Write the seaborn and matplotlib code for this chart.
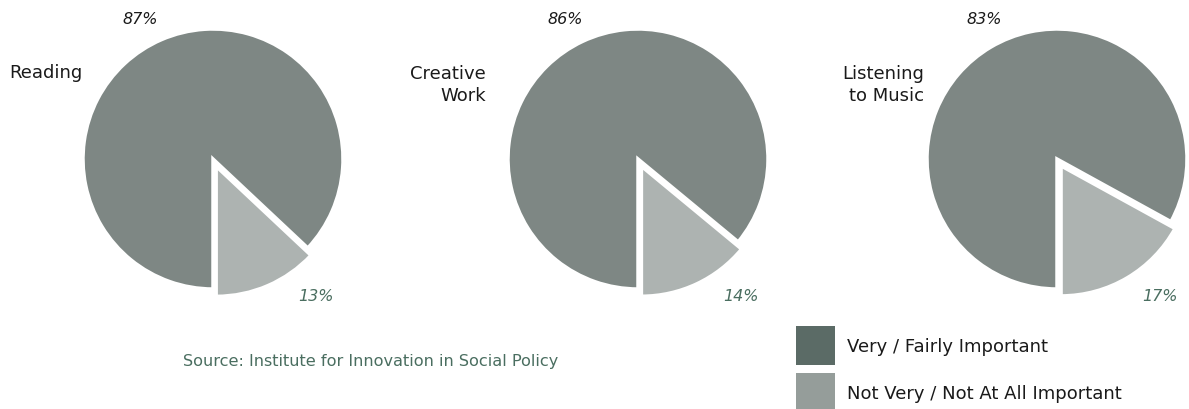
import numpy as np
import matplotlib
matplotlib.use('Agg')
import matplotlib.pyplot as plt
import seaborn as sns
from matplotlib.patches import Rectangle

# データ
activities = ['Reading', 'Creative\nWork', 'Listening\nto Music']
important = [87, 86, 83]
not_important = [13, 14, 17]
legend_labels = ['Very / Fairly Important', 'Not Very / Not At All Important']
source_text = 'Source: Institute for Innovation in Social Policy'

# スタイル
sns.set_theme(style='white')
plt.rcParams['font.family'] = ['DejaVu Sans']

pie_colors = ['#adb3b1', '#7e8784']      # small slice, big slice
legend_colors = ['#5b6b66', '#959d9a']
text_dark = '#1a1a1a'
text_green = '#4a6e60'

W, H = 1189, 410
fig = plt.figure(figsize=(W / 100, H / 100), dpi=100)
ax = fig.add_axes([0, 0, 1, 1])

# レイアウト (ピクセル座標, 上が0)
centers_x = [213, 638, 1057]
center_y = 160
radius = 130
label_right = [82, 486, 924]

def py(y):
    return H - y

for i, act in enumerate(activities):
    cx = centers_x[i]
    # explode は絶対座標 (ピクセル)
    ax.pie([not_important[i], important[i]],
           colors=pie_colors,
           startangle=-90,
           counterclock=True,
           explode=[8, 0],
           radius=radius,
           center=(cx, py(center_y)),
           wedgeprops=dict(edgecolor='white', linewidth=2.5),
           frame=True)
    ax.text(label_right[i], py(73 if '\n' not in act else 85), act,
            ha='right', va='center', fontsize=13, color=text_dark,
            linespacing=1.35)
    ax.text(cx - 73, py(20), f'{important[i]}%', ha='center', va='center',
            fontsize=11.5, style='italic', color=text_dark)
    ax.text(cx + 103, py(297), f'{not_important[i]}%', ha='center', va='center',
            fontsize=11.5, style='italic', color=text_green)

# 凡例
for j, lab in enumerate(legend_labels):
    top = 327 + j * 47
    ax.add_patch(Rectangle((796, py(top + 39)), 39, 39,
                           facecolor=legend_colors[j], edgecolor='none'))
    ax.text(847, py(top + 20), lab, ha='left', va='center',
            fontsize=13, color=text_dark)

# 出典
ax.text(183, py(362), source_text, ha='left', va='center',
        fontsize=11.6, color=text_green)

ax.set_xlim(0, W)
ax.set_ylim(0, H)
ax.set_aspect('equal')
ax.axis('off')

fig.savefig('out.png', dpi=100, facecolor='white')
